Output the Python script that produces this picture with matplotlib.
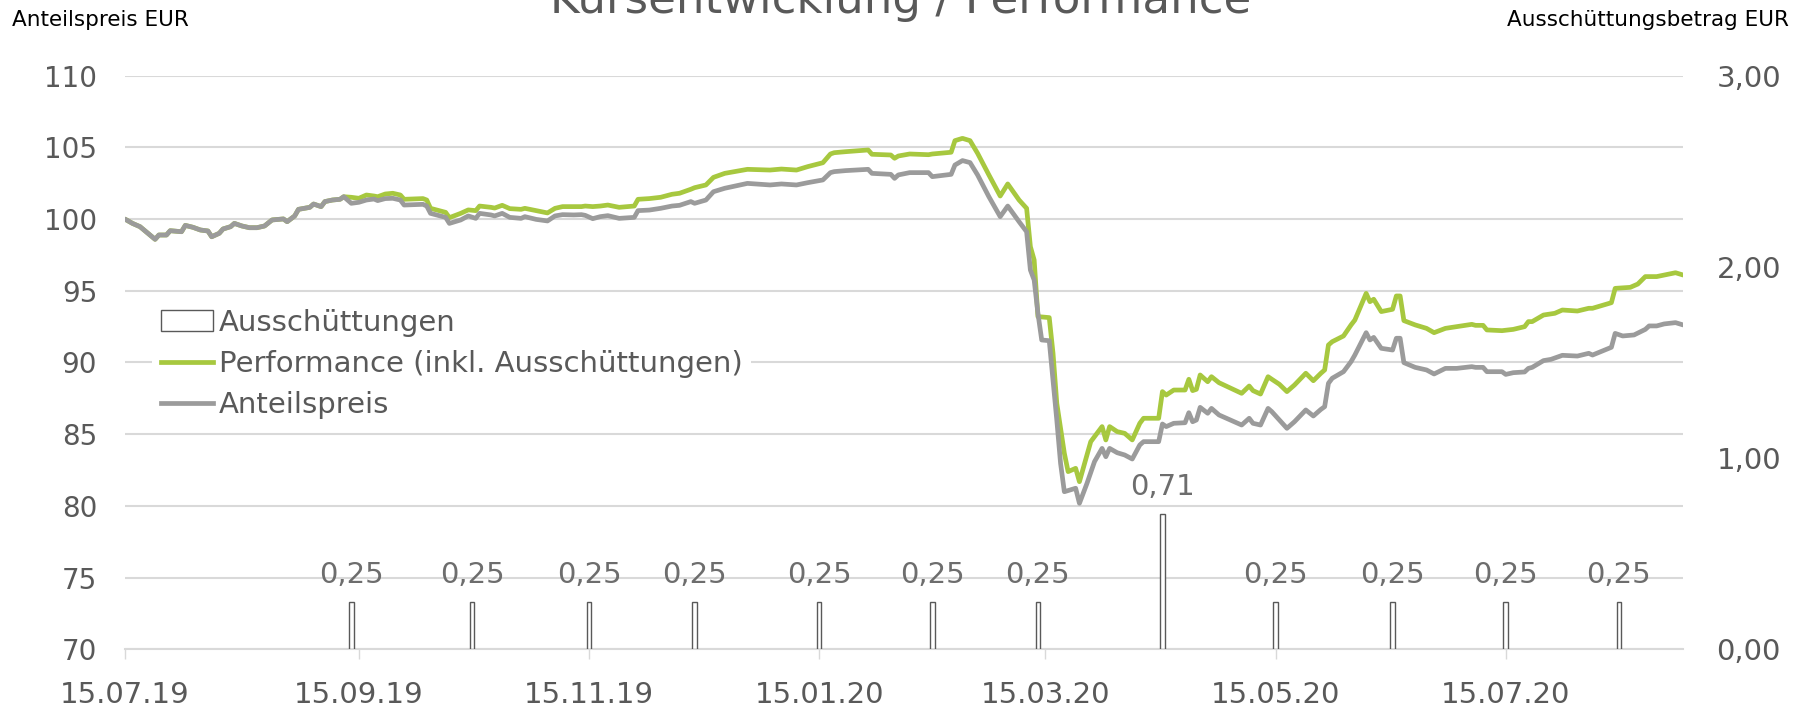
import numpy as np
import pandas as pd
import matplotlib
matplotlib.use("Agg")
import matplotlib.pyplot as plt
import matplotlib.dates as mdates
from matplotlib.patches import Patch
from matplotlib.lines import Line2D

# --- Daten ---
start = "2019-07-15"

# Kalendertage seit 15.07.2019 und Anteilspreis
tage_anteil = [0, 2, 4, 8, 9, 11, 12, 15, 16, 18, 20, 22, 23, 25, 26, 28, 29, 31, 33, 35,
               37, 39, 42, 43, 45, 46, 49, 50, 52, 53, 55, 57, 58, 60, 62, 64, 66, 67, 69, 71,
               73, 74, 79, 80, 81, 85, 86, 89, 91, 93, 94, 97, 98, 100, 102, 105, 106, 109, 112, 114,
               116, 119, 121, 122, 124, 126, 128, 131, 135, 136, 139, 142, 145, 147, 150, 151, 154, 156, 159, 165,
               171, 174, 178, 181, 185, 187, 188, 191, 197, 198, 203, 204, 205, 208, 213, 214, 219, 220, 222, 224,
               226, 229, 232, 234, 237, 239, 240, 241, 242, 243, 245, 246, 247, 248, 249, 252, 253, 255, 257, 259,
               260, 261, 263, 265, 267, 269, 270, 274, 275, 276, 278, 281, 282, 283, 284, 285, 287, 288, 290, 295,
               296, 298, 299, 301, 303, 304, 306, 308, 310, 313, 315, 317, 318, 319, 320, 323, 325, 326, 329, 330,
               331, 333, 336, 337, 338, 339, 342, 345, 347, 350, 353, 357, 358, 360, 361, 365, 366, 368, 371, 372,
               373, 376, 378, 381, 385, 388, 389, 394, 395, 397, 400, 403, 404, 406, 408, 411, 413]
anteilspreis = [100.00, 99.70, 99.47, 98.59, 98.89, 98.89, 99.19, 99.12, 99.56, 99.43, 99.24, 99.17, 98.77, 99.01, 99.31, 99.47, 99.70, 99.52, 99.40, 99.40,
                99.52, 99.94, 100.01, 99.82, 100.22, 100.68, 100.82, 101.05, 100.87, 101.22, 101.33, 101.38, 101.56, 101.10, 101.17, 101.33, 101.40, 101.29, 101.43, 101.45,
                101.33, 100.98, 101.03, 100.91, 100.40, 100.12, 99.70, 99.94, 100.22, 100.05, 100.40, 100.29, 100.22, 100.40, 100.12, 100.05, 100.17, 99.98, 99.87, 100.22,
                100.31, 100.29, 100.31, 100.26, 100.03, 100.17, 100.24, 100.05, 100.12, 100.59, 100.63, 100.75, 100.91, 100.96, 101.22, 101.10, 101.33, 101.91, 102.15, 102.49,
                102.38, 102.45, 102.38, 102.54, 102.73, 103.24, 103.31, 103.38, 103.47, 103.19, 103.12, 102.84, 103.08, 103.24, 103.24, 102.96, 103.12, 103.77, 104.08, 103.94,
                103.08, 101.56, 100.17, 100.91, 99.82, 99.12, 96.45, 95.75, 93.43, 91.57, 91.52, 88.78, 85.99, 82.97, 80.99, 81.23, 80.18, 81.57, 83.09, 84.01,
                83.43, 84.01, 83.71, 83.55, 83.27, 84.25, 84.48, 84.48, 85.71, 85.53, 85.76, 85.80, 86.50, 85.87, 85.99, 86.87, 86.46, 86.80, 86.34, 85.76,
                85.64, 86.11, 85.76, 85.64, 86.80, 86.57, 85.99, 85.41, 85.87, 86.69, 86.27, 86.73, 86.92, 88.55, 88.90, 89.36, 90.06, 90.52, 92.08, 91.57,
                91.75, 90.99, 90.87, 91.69, 91.69, 89.99, 89.66, 89.48, 89.20, 89.59, 89.59, 89.71, 89.66, 89.66, 89.36, 89.36, 89.17, 89.29, 89.34, 89.59,
                89.66, 90.13, 90.22, 90.50, 90.45, 90.64, 90.52, 91.06, 92.03, 91.85, 91.92, 92.31, 92.55, 92.55, 92.69, 92.78, 92.62]

# Performance inkl. Ausschuettungen (bis zur ersten Ausschuettung identisch mit Anteilspreis)
tage_perf_ab_ausschuettung = [60, 62, 64, 66, 67, 69, 71, 73, 74, 79, 80, 81, 85, 86, 89, 91, 93, 94, 97, 98,
                              100, 102, 105, 106, 109, 112, 114, 116, 119, 121, 122, 124, 126, 128, 131, 135, 136, 139, 142, 145,
                              147, 150, 151, 154, 156, 159, 165, 171, 174, 178, 181, 185, 187, 188, 191, 197, 198, 203, 204, 205,
                              208, 213, 214, 219, 220, 222, 224, 226, 229, 232, 234, 237, 239, 240, 241, 242, 245, 246, 247, 249,
                              250, 252, 253, 256, 259, 260, 261, 263, 265, 267, 269, 270, 274, 275, 276, 278, 281, 282, 283, 284,
                              285, 287, 288, 290, 295, 296, 298, 299, 301, 303, 304, 306, 308, 310, 313, 315, 317, 318, 319, 320,
                              323, 325, 326, 329, 330, 331, 333, 336, 337, 338, 339, 342, 345, 347, 350, 353, 357, 358, 360, 361,
                              365, 368, 371, 372, 373, 376, 379, 381, 385, 388, 389, 394, 395, 399, 401, 403, 406, 408, 411, 413]
performance_ab_ausschuettung = [101.52, 101.45, 101.68, 101.61, 101.56, 101.75, 101.80, 101.68, 101.38, 101.43, 101.33, 100.75, 100.47, 100.10, 100.40, 100.64, 100.59, 100.91, 100.82, 100.77,
                                100.96, 100.73, 100.68, 100.75, 100.59, 100.43, 100.75, 100.87, 100.87, 100.87, 100.91, 100.87, 100.91, 100.98, 100.82, 100.91, 101.38, 101.43, 101.52, 101.73,
                                101.80, 102.08, 102.19, 102.38, 102.91, 103.19, 103.47, 103.42, 103.49, 103.42, 103.66, 103.93, 104.54, 104.63, 104.70, 104.82, 104.52, 104.47, 104.24, 104.40,
                                104.54, 104.49, 104.54, 104.66, 105.47, 105.63, 105.47, 104.59, 103.08, 101.61, 102.45, 101.33, 100.75, 98.08, 97.15, 93.20, 93.13, 90.64, 87.15, 83.67,
                                82.39, 82.62, 81.69, 84.48, 85.53, 84.60, 85.53, 85.18, 85.06, 84.60, 85.76, 86.11, 86.11, 87.97, 87.73, 88.08, 88.08, 88.83, 88.04, 88.13,
                                89.13, 88.66, 89.01, 88.59, 87.97, 87.85, 88.36, 88.04, 87.80, 89.01, 88.83, 88.48, 87.97, 88.43, 89.25, 88.73, 89.25, 89.48, 91.22, 91.45,
                                91.85, 92.62, 92.96, 94.82, 94.24, 94.41, 93.55, 93.71, 94.64, 94.64, 92.92, 92.62, 92.38, 92.08, 92.38, 92.50, 92.66, 92.59, 92.59, 92.27,
                                92.22, 92.31, 92.50, 92.85, 92.85, 93.31, 93.43, 93.66, 93.59, 93.78, 93.78, 94.17, 95.17, 95.24, 95.47, 95.99, 95.99, 96.10, 96.26, 96.10]

# Ausschuettungen
ausschuettung_datum = ["13.09.2019", "15.10.2019", "15.11.2019", "13.12.2019", "15.01.2020", "14.02.2020",
                       "13.03.2020", "15.04.2020", "15.05.2020", "15.06.2020", "15.07.2020", "14.08.2020"]
ausschuettung_betrag = [0.25, 0.25, 0.25, 0.25, 0.25, 0.25, 0.25, 0.71, 0.25, 0.25, 0.25, 0.25]

x_ticks = ["15.07.19", "15.09.19", "15.11.19", "15.01.20", "15.03.20", "15.05.20", "15.07.20"]
y_links = [70, 75, 80, 85, 90, 95, 100, 105, 110]
y_rechts = [0, 1, 2, 3]

# --- Aufbereitung ---
t0 = pd.Timestamp(start)
n_vor = tage_anteil.index(60)
tage_perf = tage_anteil[:n_vor] + tage_perf_ab_ausschuettung
performance = anteilspreis[:n_vor] + performance_ab_ausschuettung

d_anteil = t0 + pd.to_timedelta(tage_anteil, unit="D")
d_perf = t0 + pd.to_timedelta(tage_perf, unit="D")
d_aus = pd.to_datetime(ausschuettung_datum, format="%d.%m.%Y")
d_ticks = pd.to_datetime(x_ticks, format="%d.%m.%y")

GRUEN = "#a7c83f"
GRAU = "#9b9b9b"
TEXT = "#595959"
GRID = "#d9d9d9"

fig = plt.figure(figsize=(18.08, 7.08), dpi=100)
ax = fig.add_axes([0.0691, 0.0829, 0.8618, 0.8102])
ax2 = ax.twinx()

ax.plot(d_perf, performance, color=GRUEN, lw=3.4, solid_capstyle="round", zorder=3)
ax.plot(d_anteil, anteilspreis, color=GRAU, lw=3.4, solid_capstyle="round", zorder=4)

bars = ax2.bar(d_aus, ausschuettung_betrag, width=1.2, facecolor="white",
               edgecolor=TEXT, lw=1.0)
ax2.bar_label(bars, labels=[f"{v:.2f}".replace(".", ",") for v in ausschuettung_betrag],
              padding=9, fontsize=21, color="#6d6d6d")

ax.set_xlim(t0, t0 + pd.Timedelta(days=413))
ax.set_ylim(70, 110)
ax2.set_ylim(0, 3)

ax.set_xticks(d_ticks)
ax.xaxis.set_major_formatter(mdates.DateFormatter("%d.%m.%y"))
ax.tick_params(axis="x", length=7, width=1, color=GRID, pad=15.5, labelsize=21, labelcolor=TEXT)
ax.set_yticks(y_links)
ax.tick_params(axis="y", length=0, pad=20, labelsize=20, labelcolor=TEXT)
ax2.set_yticks(y_rechts)
ax2.set_yticklabels([f"{v:.2f}".replace(".", ",") for v in y_rechts])
ax2.tick_params(axis="y", length=0, pad=24, labelsize=21, labelcolor=TEXT)

ax.yaxis.grid(True, color=GRID, lw=1.5)
ax.set_axisbelow(True)
for s in ["top", "left", "right"]:
    ax.spines[s].set_visible(False)
    ax2.spines[s].set_visible(False)
ax2.spines["bottom"].set_visible(False)
ax.spines["bottom"].set_color(GRID)
ax.spines["bottom"].set_linewidth(1.5)

# --- Legende ---
handles = [Patch(facecolor="white", edgecolor=TEXT, lw=1.0),
           Line2D([], [], color=GRUEN, lw=3.4),
           Line2D([], [], color=GRAU, lw=3.4)]
labels = ["Ausschüttungen", "Performance (inkl. Ausschüttungen)", "Anteilspreis"]
leg = ax2.legend(handles, labels, loc="upper left", bbox_to_anchor=(0.0175, 0.609),
                 fontsize=21, frameon=True, fancybox=False, framealpha=1, borderpad=0.3,
                 borderaxespad=0, handlelength=1.78, handletextpad=0.2, labelspacing=0.45)
leg.get_frame().set_edgecolor("none")
for t in leg.get_texts():
    t.set_color(TEXT)

# --- Texte ---
fig.text(0.498, 0.9816, "Kursentwicklung / Performance", ha="center", va="baseline",
         fontsize=32.5, color=TEXT)
fig.text(12 / 1808, 1 - 26 / 708, "Anteilspreis EUR", ha="left", va="baseline",
         fontsize=15.5, color="black")
fig.text(1789 / 1808, 1 - 26 / 708, "Ausschüttungsbetrag EUR", ha="right", va="baseline",
         fontsize=15.5, color="black")

fig.savefig("out.png", dpi=100)
